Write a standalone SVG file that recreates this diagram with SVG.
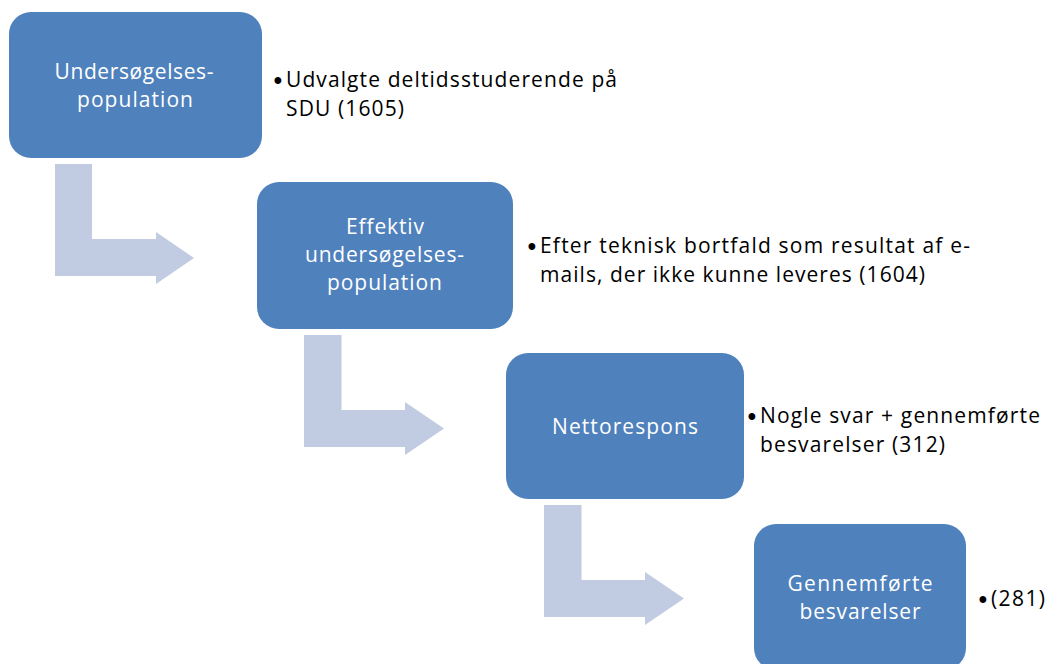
<svg xmlns="http://www.w3.org/2000/svg" width="1047" height="664" viewBox="0 0 1047 664">
<style>
.box{fill:#4F81BD;}
.arr{fill:#C1CCE2;}
.lbl{font-family:"Open Sans","Liberation Sans",sans-serif;font-size:21px;fill:#FFFFFF;text-anchor:middle;font-variant-ligatures:none;}
.txt{font-family:"Open Sans","Liberation Sans",sans-serif;font-size:21px;fill:#000000;font-variant-ligatures:none;}
.bul{font-family:"Liberation Sans",sans-serif;font-size:25px;fill:#000000;}
</style>
<rect width="1047" height="664" fill="#FFFFFF"/>
<g id="connectors">
<path class="arr" d="M55,164 H92 V239 H156 V232 L194,258 L156,284 V276 H55 Z"/>
<path class="arr" d="M304,335 H341.5 V410 H405 V402 L444,428.5 L405,455 V447 H304 Z"/>
<path class="arr" d="M544,505 H581.5 V580 H645 V572 L684,598.5 L645,625 V617 H544 Z"/>
</g>
<g id="node1">
<rect class="box" x="9" y="12" width="253" height="146" rx="22" ry="22"/>
<text class="lbl" x="134" y="79" textLength="159">Undersøgelses-</text>
<text class="lbl" x="135" y="107" textLength="116">population</text>
</g>
<g id="text1">
<text class="bul" x="273.5" y="89">•</text>
<text class="txt" x="286" y="87" textLength="331">Udvalgte deltidsstuderende på</text>
<text class="txt" x="286" y="116" textLength="118">SDU (1605)</text>
</g>
<g id="node2">
<rect class="box" x="257" y="182" width="256" height="147" rx="22" ry="22"/>
<text class="lbl" x="385" y="234" textLength="78">Effektiv</text>
<text class="lbl" x="384.5" y="262" textLength="159">undersøgelses-</text>
<text class="lbl" x="384.5" y="290" textLength="115">population</text>
</g>
<g id="text2">
<text class="bul" x="527.5" y="255">•</text>
<text class="txt" x="540" y="253" textLength="430">Efter teknisk bortfald som resultat af e-</text>
<text class="txt" x="540" y="282" textLength="385">mails, der ikke kunne leveres (1604)</text>
</g>
<g id="node3">
<rect class="box" x="506" y="353" width="238" height="146" rx="22" ry="22"/>
<text class="lbl" x="625" y="434" textLength="146">Nettorespons</text>
</g>
<g id="text3">
<text class="bul" x="747.5" y="425">•</text>
<text class="txt" x="760" y="423" textLength="280">Nogle svar + gennemførte</text>
<text class="txt" x="760" y="452" textLength="185">besvarelser (312)</text>
</g>
<g id="node4">
<rect class="box" x="754" y="524" width="212" height="146" rx="22" ry="22"/>
<text class="lbl" x="860" y="591" textLength="145">Gennemførte</text>
<text class="lbl" x="860" y="619" textLength="121">besvarelser</text>
</g>
<g id="text4">
<text class="bul" x="978.5" y="608">•</text>
<text class="txt" x="991" y="606" textLength="54">(281)</text>
</g>
</svg>
